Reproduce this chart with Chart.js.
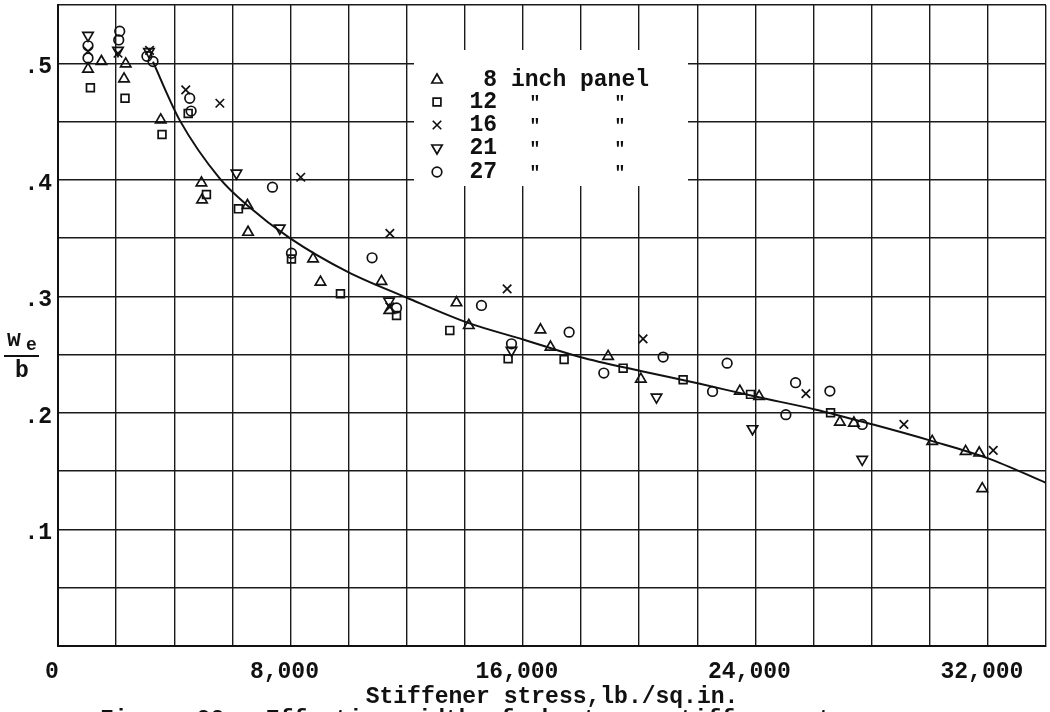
<!DOCTYPE html>
<html><head><meta charset="utf-8">
<script src="https://cdn.jsdelivr.net/npm/chart.js@4"></script>
<style>html,body{margin:0;padding:0;background:#fff}#wrap{width:1050px;height:712px;position:relative}</style>
</head><body><div id="wrap"><canvas id="c" width="1050" height="712"></canvas></div>
<script>
// ---- tick labels ----
const xTickValues = [0, 8000, 16000, 24000, 32000];
const xTickText   = ['0', '8,000', '16,000', '24,000', '32,000'];
const yTickValues = [0.1, 0.2, 0.3, 0.4, 0.5];
const yTickText   = ['.1', '.2', '.3', '.4', '.5'];

// ---- 8 inch panel (triangle) ----
const p8X = [1033, 1494, 2330, 2272, 3535, 4936, 4957, 6520, 6540, 8777, 9032, 11132, 11400, 13713, 14137, 16604, 16948, 18931, 20057, 23464, 24128, 26907, 27389, 30084, 31233, 31702, 31806];
const p8Y = [0.495, 0.5015, 0.4995, 0.4866, 0.4514, 0.3974, 0.3828, 0.378, 0.355, 0.3322, 0.3122, 0.3128, 0.288, 0.2945, 0.275, 0.2713, 0.2565, 0.2485, 0.229, 0.2187, 0.2142, 0.1921, 0.1913, 0.1756, 0.167, 0.1656, 0.135];
// ---- 12 inch panel (square) ----
const p12X = [1115, 2306, 3580, 4480, 5108, 6209, 8034, 9720, 11650, 13483, 15490, 17417, 19448, 21512, 23832, 26587];
const p12Y = [0.479, 0.470, 0.4389, 0.457, 0.3874, 0.3751, 0.332, 0.3022, 0.2836, 0.2708, 0.2465, 0.2459, 0.2384, 0.2285, 0.2159, 0.2002];
// ---- 16 inch panel (x) ----
const p16X = [1033, 2065, 3150, 4396, 5570, 8354, 11420, 11420, 15455, 20134, 25737, 29109, 32184];
const p16Y = [0.5103, 0.5086, 0.511, 0.4772, 0.4657, 0.4022, 0.354, 0.291, 0.3065, 0.2636, 0.2165, 0.1901, 0.1678];
// ---- 21 inch panel (inverted triangle) ----
const p21X = [1033, 2065, 3130, 6140, 7631, 11393, 15606, 20596, 23900, 27675];
const p21Y = [0.524, 0.511, 0.510, 0.4057, 0.3585, 0.2959, 0.2536, 0.2136, 0.1864, 0.1601];
// ---- 27 inch panel (circle) ----
const p27X = [1033, 1033, 2124, 2090, 3060, 3270, 4533, 4580, 7380, 8034, 10808, 11650, 14573, 15606, 17589, 18783, 20825, 22525, 23027, 25048, 25382, 26563, 27675];
const p27Y = [0.515, 0.5046, 0.5275, 0.520, 0.506, 0.5015, 0.470, 0.459, 0.3937, 0.337, 0.3331, 0.290, 0.2922, 0.2593, 0.2693, 0.2342, 0.2479, 0.2184, 0.2427, 0.1985, 0.2259, 0.2187, 0.1901];
// ---- faired curve ----
const curveX = [3270, 3730, 4190, 5570, 6520, 7980, 9970, 11990, 14140, 16010, 17960, 20050, 22090, 24000, 26050, 28050, 30060, 32010, 34000];
const curveY = [0.5015, 0.475, 0.451, 0.401, 0.378, 0.350, 0.321, 0.299, 0.277, 0.263, 0.248, 0.236, 0.225, 0.214, 0.203, 0.190, 0.176, 0.161, 0.140];

// ---- legend ----
const legendNumbers = ['8', '12', '16', '21', '27'];
const legendFirstText = 'inch panel';
const legendDitto = '"';
const xTitle = 'Stiffener stress,lb./sq.in.';
const captionText = 'Figure 22.- Effective width of sheet vs. stiffener stress.';

const FONT = "'Liberation Mono', 'DejaVu Sans Mono', monospace";
const pts = (xs, ys) => xs.map((x, i) => ({x: x, y: ys[i]}));

const markerDefs = [
  {style: 'triangle', rot: 0, r: 6},
  {style: 'rect', rot: 0, r: 5.5},
  {style: 'crossRot', rot: 0, r: 6},
  {style: 'triangle', rot: 180, r: 6},
  {style: 'circle', rot: 0, r: 4.8}
];

function mk(label, xs, ys, m) {
  return {
    type: 'scatter', label: label, data: pts(xs, ys),
    pointStyle: m.style, rotation: m.rot, pointRadius: m.r, pointHoverRadius: m.r,
    pointBorderColor: '#111', pointBackgroundColor: 'rgba(0,0,0,0)', pointBorderWidth: 1.7,
    showLine: false
  };
}

const legendPlugin = {
  id: 'panelLegend',
  beforeDatasetsDraw(chart) {
    const ctx = chart.ctx;
    ctx.save();
    ctx.fillStyle = '#fff';
    ctx.fillRect(414, 50, 274, 136);
    const rows = [80, 102, 125, 148, 172];
    ctx.strokeStyle = '#111';
    ctx.lineWidth = 1.7;
    rows.forEach((y, i) => {
      const m = markerDefs[i];
      ctx.fillStyle = 'rgba(0,0,0,0)';
      Chart.helpers.drawPoint(ctx, {pointStyle: m.style, rotation: m.rot, radius: m.r, borderWidth: 1.7}, 437, y);
      ctx.fillStyle = '#111';
      ctx.font = 'bold 23px ' + FONT;
      ctx.textBaseline = 'middle';
      ctx.textAlign = 'right';
      ctx.fillText(legendNumbers[i], 497, y);
      if (i === 0) {
        ctx.textAlign = 'left';
        ctx.fillText(legendFirstText, 511, y);
      } else {
        ctx.textAlign = 'center';
        ctx.font = 'bold 18px ' + FONT;
        ctx.fillText(legendDitto, 535, y + 1);
        ctx.fillText(legendDitto, 620, y + 1);
      }
    });
    ctx.restore();
  },
  afterDraw(chart) {
    const ctx = chart.ctx;
    ctx.save();
    ctx.fillStyle = '#111';
    ctx.strokeStyle = '#111';
    ctx.textBaseline = 'alphabetic';
    ctx.textAlign = 'left';
    ctx.font = 'bold 23px ' + FONT;
    ctx.fillText('w', 7, 346);
    ctx.font = 'bold 18px ' + FONT;
    ctx.fillText('e', 26, 350);
    ctx.lineWidth = 1.8;
    ctx.beginPath(); ctx.moveTo(4, 356); ctx.lineTo(39, 356); ctx.stroke();
    ctx.font = 'bold 23px ' + FONT;
    ctx.textAlign = 'center';
    ctx.fillText('b', 22, 377);
    ctx.textAlign = 'left';
    ctx.textBaseline = 'top';
    ctx.font = 'bold 23px ' + FONT;
    ctx.fillText(captionText, 100, 709);
    ctx.restore();
  }
};

const datasets = [
  {
    type: 'line', label: 'curve', data: pts(curveX, curveY),
    borderColor: '#111', borderWidth: 2, pointRadius: 0, fill: false,
    cubicInterpolationMode: 'monotone'
  },
  mk('8 inch panel', p8X, p8Y, markerDefs[0]),
  mk('12 inch panel', p12X, p12Y, markerDefs[1]),
  mk('16 inch panel', p16X, p16Y, markerDefs[2]),
  mk('21 inch panel', p21X, p21Y, markerDefs[3]),
  mk('27 inch panel', p27X, p27Y, markerDefs[4])
];

function findLabel(vals, txt, v, tol) {
  for (let i = 0; i < vals.length; i++) if (Math.abs(vals[i] - v) < tol) return txt[i];
  return '';
}
function noPad(s) { s.paddingLeft = 0; s.paddingRight = 0; s.paddingTop = 0; s.paddingBottom = 0; }

new Chart(document.getElementById('c'), {
  data: {datasets: datasets},
  plugins: [legendPlugin],
  options: {
    responsive: false, animation: false, devicePixelRatio: 1,
    layout: {autoPadding: false, padding: {left: 0, top: 5, right: 4, bottom: 0}},
    plugins: {legend: {display: false}, tooltip: {enabled: false}, title: {display: false}},
    scales: {
      x: {
        type: 'linear', min: 0, max: 34000,
        afterFit(s) { s.height = 66; noPad(s); },
        grid: {color: '#1a1a1a', lineWidth: 1.4, drawTicks: false},
        border: {color: '#111', width: 2},
        ticks: {
          stepSize: 2000, autoSkip: false, maxRotation: 0, padding: 12, labelOffset: -6,
          color: '#111', font: {family: FONT, size: 23, weight: 'bold'},
          callback: v => findLabel(xTickValues, xTickText, v, 1)
        },
        title: {display: true, text: xTitle, color: '#111', font: {family: FONT, size: 23, weight: 'bold'}, padding: {top: 0, bottom: 1}}
      },
      y: {
        type: 'linear', min: 0, max: 0.55,
        afterFit(s) { s.width = 58; noPad(s); },
        grid: {color: '#1a1a1a', lineWidth: 1.4, drawTicks: false},
        border: {color: '#111', width: 2},
        ticks: {
          stepSize: 0.05, autoSkip: false, padding: 6, labelOffset: 4,
          color: '#111', font: {family: FONT, size: 23, weight: 'bold'},
          callback: v => findLabel(yTickValues, yTickText, v, 1e-6)
        }
      }
    }
  }
});
</script></body></html>
